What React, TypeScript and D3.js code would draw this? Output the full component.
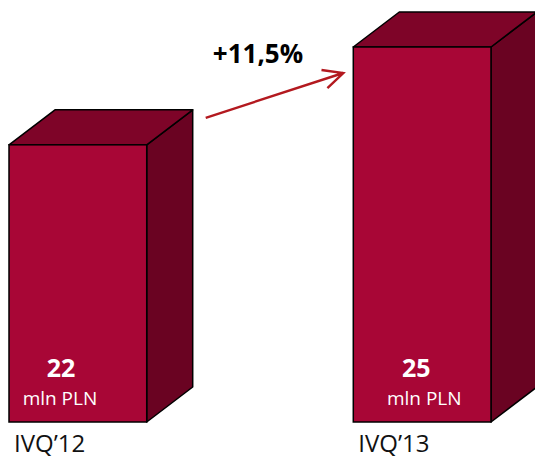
import React from 'react';
import * as d3 from 'd3';

// chart data
const categories = ['IVQ\u201912', 'IVQ\u201913'];
const values = [22, 25];
const unitLabel = 'mln PLN';
const changeLabel = '+11,5%';

const W = 535;
const H = 458;
const depthX = 46;
const depthY = 35;

const FRONT = '#a80636';
const TOP = '#7e0428';
const SIDE = '#6a0322';
const font = '"Open Sans", "Noto Sans", sans-serif';

const App = () => {
  // value axis doesn't start at zero in the original slide
  const y = d3.scaleLinear().domain([13.5, 25]).range([422, 47]);
  const x = d3.scaleBand<string>()
    .domain(categories)
    .range([9, 491])
    .paddingInner(0.6)
    .paddingOuter(0);
  const bw = x.bandwidth();
  const base = y(13.5);

  // arrow between the two bars
  const x0 = x(categories[0])! + bw + depthX + 13;
  const x1 = x(categories[1])! - 10;
  const ya = y(values[0]) - 27;
  const yb = y(values[1]) + 26;
  const ang = Math.atan2(yb - ya, x1 - x0);
  const head = 22;
  const spread = 0.45;
  const arrowPath = d3.path();
  arrowPath.moveTo(x0, ya);
  arrowPath.lineTo(x1, yb);
  arrowPath.moveTo(x1 - head * Math.cos(ang - spread), yb - head * Math.sin(ang - spread));
  arrowPath.lineTo(x1, yb);
  arrowPath.lineTo(x1 - head * Math.cos(ang + spread), yb - head * Math.sin(ang + spread));

  return (
    <svg width={W} height={H} style={{ position: 'absolute', left: 0, top: 0 }}>
      <rect width={W} height={H} fill="#fff" />
      {categories.map((c, i) => {
        const left = x(c)!;
        const right = left + bw;
        const top = y(values[i]);
        const topFace = `M${left},${top}L${left + depthX},${top - depthY}L${right + depthX},${top - depthY}L${right},${top}Z`;
        const sideFace = `M${right},${top}L${right + depthX},${top - depthY}L${right + depthX},${base - depthY}L${right},${base}Z`;
        const cx = left + bw * (i === 0 ? 0.37 : 0.45);
        return (
          <g key={c}>
            <path d={sideFace} fill={SIDE} stroke="#000" strokeWidth={1.5} strokeLinejoin="round" />
            <path d={topFace} fill={TOP} stroke="#000" strokeWidth={1.5} strokeLinejoin="round" />
            <rect x={left} y={top} width={bw} height={base - top} fill={FRONT} stroke="#000" strokeWidth={1.5} />
            <text x={cx + 1} y={base - 45} textAnchor="middle" fill="#fff" fontFamily={font} fontWeight="bold" fontSize={25}>
              {values[i]}
            </text>
            <text x={cx + (i === 0 ? 0 : 9)} y={base - 17} textAnchor="middle" fill="#fff" fontFamily={font} fontSize={19}>
              {unitLabel}
            </text>
            <text x={left + 5} y={base + 30} fill="#111" fontFamily={font} fontSize={24}>
              {c}
            </text>
          </g>
        );
      })}
      <path d={arrowPath.toString()} fill="none" stroke="#b3191f" strokeWidth={2.4} />
      <text x={258} y={63} textAnchor="middle" fill="#000" fontFamily={font} fontWeight="bold" fontSize={26}>
        {changeLabel}
      </text>
    </svg>
  );
};

export default App;
